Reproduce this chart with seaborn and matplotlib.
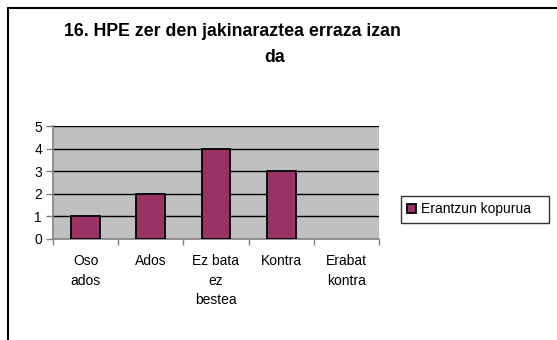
import matplotlib
matplotlib.use("Agg")
import matplotlib.pyplot as plt
from matplotlib.lines import Line2D
import seaborn as sns
import pandas as pd

categories = ["Oso\nados", "Ados", "Ez bata\nez\nbestea", "Kontra", "Erabat\nkontra"]
values = [1, 2, 4, 3, 0]
series_name = "Erantzun kopurua"
title_lines = ["16. HPE zer den jakinaraztea erraza izan", "da"]
y_ticks = [0, 1, 2, 3, 4, 5]

sns.set_theme(style="white")
plt.rcParams["font.family"] = ["Liberation Sans", "DejaVu Sans"]
plt.rcParams["text.color"] = "black"
plt.rcParams["xtick.color"] = "black"
plt.rcParams["ytick.color"] = "black"

W, H = 557, 340
fig = plt.figure(figsize=(W / 100, H / 100), dpi=100)
fig.patch.set_facecolor("white")

# plot area in pixel coordinates
left, right, top, bottom = 53, 379, 126, 239
ax = fig.add_axes([left / W, 1 - bottom / H, (right - left) / W, (bottom - top) / H])
ax.set_facecolor("#C0C0C0")

df = pd.DataFrame({"cat": categories, "val": values, "series": series_name})
sns.barplot(data=df, x="cat", y="val", hue="series", palette=["#993366"], saturation=1,
            width=0.44, edgecolor="black", linewidth=1.3, ax=ax, zorder=3)

ax.set_ylim(0, 5)
ax.set_xlim(-0.5, len(categories) - 0.5)
ax.set_yticks(y_ticks)
ax.set_yticklabels([str(t) for t in y_ticks], fontsize=10)
for t in y_ticks[1:]:
    ax.axhline(t, color="black", linewidth=1.0, zorder=2)

ax.set_xticks(range(len(categories)))
ax.set_xticklabels(categories, fontsize=10, linespacing=1.5, va="top")
ax.tick_params(axis="x", length=0, pad=11)
# category boundary ticks
ax.set_xticks([i + 0.5 for i in range(-1, len(categories))], minor=True)
ax.tick_params(axis="x", which="minor", length=4, width=1, color="#808080", direction="out", bottom=True)
ax.tick_params(axis="y", length=5, width=1, color="#808080", labelcolor="black",
               direction="out", left=True, pad=3)
ax.set_xlabel("")
ax.set_ylabel("")

for side in ["top", "right"]:
    ax.spines[side].set_visible(False)
for side in ["left", "bottom"]:
    ax.spines[side].set_color("#808080")
    ax.spines[side].set_linewidth(1.2)

leg = ax.legend(loc="upper left", bbox_to_anchor=(401 / W, 1 - 169 / H, 148 / W, -27 / H),
                bbox_transform=fig.transFigure, mode="expand", fontsize=10, frameon=True,
                fancybox=False, handlelength=0.6, handleheight=0.6, handletextpad=0.4,
                borderpad=0.45, borderaxespad=0)
leg.get_frame().set_edgecolor("black")
leg.get_frame().set_linewidth(1.0)
for txt in leg.get_texts():
    txt.set_color("black")

# empty categories show no bar outline
for p in ax.patches:
    if p.get_height() == 0:
        p.set_visible(False)

# two-line chart title
fig.text(232 / W, 1 - 31 / H, title_lines[0], ha="center", va="center",
         fontsize=12.8, fontweight="bold", color="black")
fig.text(275 / W, 1 - 58 / H, title_lines[1], ha="center", va="center",
         fontsize=12.8, fontweight="bold", color="black")

# outer chart frame (left and top edges)
fig.add_artist(Line2D([7.5 / W, 7.5 / W], [0, 1 - 7.5 / H], color="black", linewidth=1.5))
fig.add_artist(Line2D([7.5 / W, 557 / W], [1 - 7.5 / H, 1 - 7.5 / H], color="black", linewidth=1.5))

fig.savefig("out.png", dpi=100)
